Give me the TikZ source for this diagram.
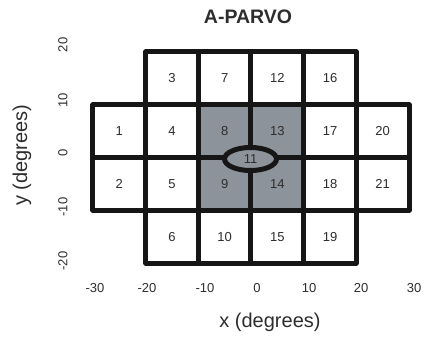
\documentclass[tikz,border=0pt]{standalone}
\usepackage{fontspec}
\setmainfont{Liberation Sans}
\usetikzlibrary{shapes.geometric}
\definecolor{cellgray}{RGB}{141,147,155}
\definecolor{gridline}{RGB}{22,22,22}
\definecolor{numtext}{RGB}{45,45,45}
\tikzset{
  cellbox/.style={draw=gridline, line width=5pt, line join=round, fill=white,
    minimum width=52.67pt, minimum height=52.75pt, inner sep=0pt, outer sep=0pt,
    font=\fontsize{13}{15}\selectfont, text=numtext, anchor=center},
  graycell/.style={cellbox, fill=cellgray},
  ticklab/.style={font=\fontsize{13}{15}\selectfont, text=numtext, inner sep=0pt},
  axislab/.style={font=\fontsize{20}{24}\selectfont, text=numtext, inner sep=0pt},
}
\begin{document}
\begin{tikzpicture}[x=1pt, y=-1pt]
\useasboundingbox (0,0) rectangle (425,339);
% column centres
\def\cA{119.33}\def\cB{172}\def\cC{224.67}\def\cD{277.33}\def\cE{330}\def\cF{382.67}
\def\rA{78.375}\def\rB{131.125}\def\rC{183.875}\def\rD{236.625}
% row 0
\node[cellbox] (c3) at (\cB,\rA) {3};
\node[cellbox] (c7) at (\cC,\rA) {7};
\node[cellbox] (c12) at (\cD,\rA) {12};
\node[cellbox] (c16) at (\cE,\rA) {16};
% row 3
\node[cellbox] (c6) at (\cB,\rD) {6};
\node[cellbox] (c10) at (\cC,\rD) {10};
\node[cellbox] (c15) at (\cD,\rD) {15};
\node[cellbox] (c19) at (\cE,\rD) {19};
% row 1
\node[cellbox] (c1) at (\cA,\rB) {1};
\node[cellbox] (c4) at (\cB,\rB) {4};
\node[graycell] (c8) at (\cC,\rB) {8};
\node[graycell] (c13) at (\cD,\rB) {13};
\node[cellbox] (c17) at (\cE,\rB) {17};
\node[cellbox] (c20) at (\cF,\rB) {20};
% row 2
\node[cellbox] (c2) at (\cA,\rC) {2};
\node[cellbox] (c5) at (\cB,\rC) {5};
\node[graycell] (c9) at (\cC,\rC) {9};
\node[graycell] (c14) at (\cD,\rC) {14};
\node[cellbox] (c18) at (\cE,\rC) {18};
\node[cellbox] (c21) at (\cF,\rC) {21};
% centre ellipse
\node[ellipse, draw=gridline, line width=5pt, fill=cellgray, minimum width=52pt, minimum height=23pt,
  inner sep=0pt, font=\fontsize{13}{15}\selectfont, text=numtext] (c11) at (250.5,159) {11};
% title
\node[font=\bfseries\fontsize{19.5}{23}\selectfont, text=numtext, inner sep=0pt] (title) at (248,17) {A-PARVO};
% x ticks
\node[ticklab] (xm30) at (95,288) {-30};
\node[ticklab] (xm20) at (147,288) {-20};
\node[ticklab] (xm10) at (205,288) {-10};
\node[ticklab] (x0) at (257,288) {0};
\node[ticklab] (x10) at (309,288) {10};
\node[ticklab] (x20) at (361,288) {20};
\node[ticklab] (x30) at (414,288) {30};
% y ticks
\node[ticklab, rotate=90] (y20) at (63,45) {20};
\node[ticklab, rotate=90] (y10) at (63,100) {10};
\node[ticklab, rotate=90] (y0) at (63,153) {0};
\node[ticklab, rotate=90] (ym10) at (63,207) {-10};
\node[ticklab, rotate=90] (ym20) at (63,261) {-20};
% axis labels
\node[axislab] (xlab) at (270,322) {x (degrees)};
\node[axislab, rotate=90] (ylab) at (22,155) {y (degrees)};
\end{tikzpicture}
\end{document}
